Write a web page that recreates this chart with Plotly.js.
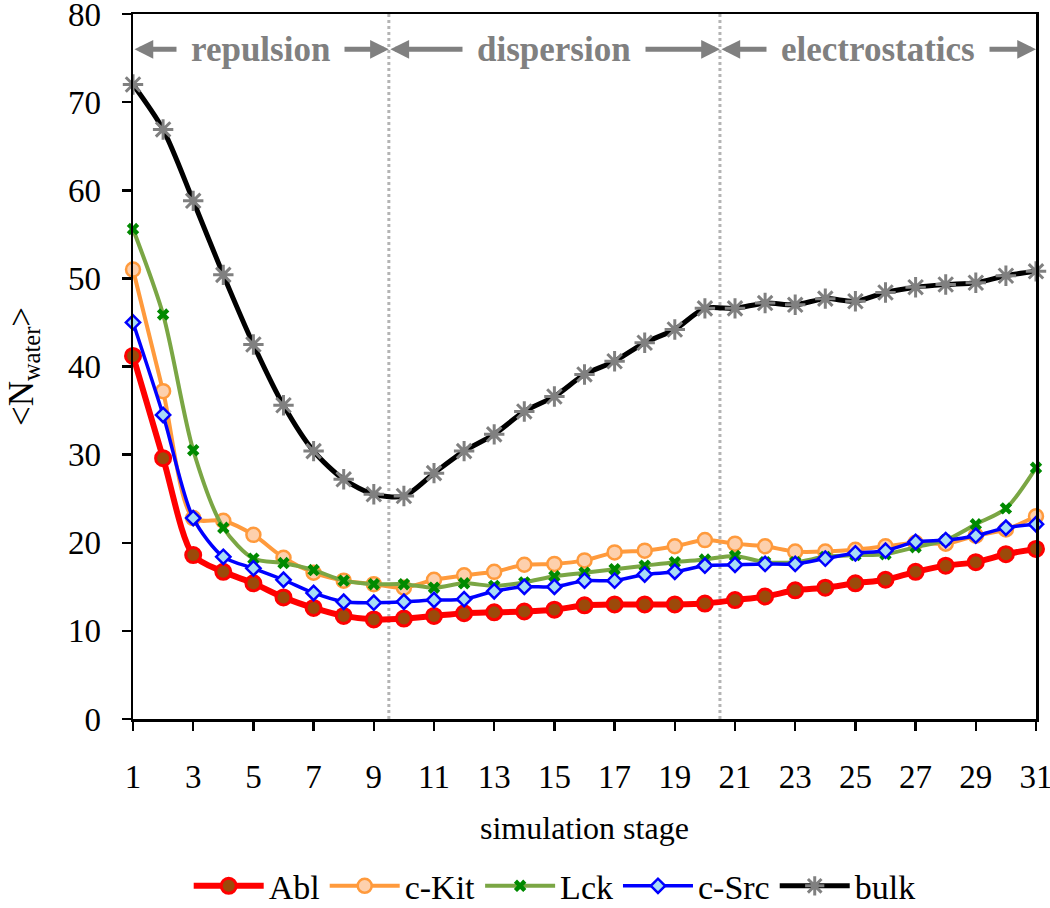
<!DOCTYPE html>
<html>
<head>
<meta charset="utf-8">
<script src="https://cdn.plot.ly/plotly-3.0.1.min.js"></script>
<style>
  html, body { margin: 0; padding: 0; background: #fff; }
  #plotter { width: 1050px; height: 908px; }
</style>
</head>
<body>
<div id="plotter"></div>
<script>
var stages = [1, 2, 3, 4, 5, 6, 7, 8, 9, 10, 11, 12, 13, 14, 15, 16,
              17, 18, 19, 20, 21, 22, 23, 24, 25, 26, 27, 28, 29, 30, 31];

var abl  = [41.2, 29.6, 18.6, 16.7, 15.4, 13.8, 12.6, 11.7, 11.3, 11.4, 11.7, 12.0, 12.1, 12.2, 12.4, 12.9,
            13.0, 13.0, 13.0, 13.1, 13.5, 13.9, 14.6, 14.9, 15.4, 15.8, 16.7, 17.4, 17.8, 18.7, 19.3];
var ckit = [51.0, 37.2, 22.8, 22.5, 20.9, 18.3, 16.6, 15.7, 15.3, 14.9, 15.8, 16.3, 16.7, 17.5, 17.6, 18.0,
            18.9, 19.1, 19.6, 20.3, 19.9, 19.6, 19.0, 19.0, 19.2, 19.6, 20.0, 19.9, 20.8, 21.5, 23.0];
var lck  = [55.6, 45.9, 30.5, 21.7, 18.2, 17.7, 16.9, 15.7, 15.3, 15.3, 14.9, 15.4, 15.1, 15.5, 16.2, 16.6,
            17.0, 17.4, 17.8, 18.1, 18.5, 17.8, 17.8, 18.4, 18.6, 18.7, 19.5, 20.3, 22.1, 23.9, 28.5];
var csrc = [45.0, 34.5, 22.8, 18.4, 17.1, 15.8, 14.3, 13.3, 13.2, 13.3, 13.5, 13.6, 14.5, 15.0, 15.0, 15.7,
            15.7, 16.4, 16.7, 17.4, 17.5, 17.6, 17.6, 18.2, 18.8, 19.1, 20.1, 20.3, 20.8, 21.7, 22.1];
var bulk = [72.0, 66.9, 58.8, 50.4, 42.5, 35.6, 30.4, 27.2, 25.5, 25.3, 27.9, 30.4, 32.3, 34.9, 36.6, 39.1,
            40.6, 42.7, 44.2, 46.6, 46.6, 47.2, 47.0, 47.7, 47.4, 48.4, 49.0, 49.3, 49.5, 50.3, 50.8];

var xTicks = [1, 3, 5, 7, 9, 11, 13, 15, 17, 19, 21, 23, 25, 27, 29, 31];

// stage boundaries and phase labels
var phases = ['repulsion', 'dispersion', 'electrostatics'];
var bounds = [1, 9.5, 20.5, 31];
var arrowY = 76;

var serif = 'Liberation Serif, Times New Roman, serif';

function series(name, y, lineColor, lineWidth, symbol, size, fill, edge, edgeWidth) {
    return {
        x: stages, y: y, name: name,
        type: 'scatter', mode: 'lines+markers', cliponaxis: false,
        line: {color: lineColor, width: lineWidth, shape: 'spline', smoothing: 0.8},
        marker: {symbol: symbol, size: size, color: fill,
                 line: {color: edge, width: edgeWidth}}
    };
}

var data = [
    series('Abl',   abl,  '#ff0000', 6,   'circle',        15, '#9c4a0a', '#ff0000', 3),
    series('c-Kit', ckit, '#ff9a3c', 4,   'circle',        14, '#fdd0ad', '#ff9a3c', 2.5),
    series('Lck',   lck,  '#7aa644', 4,   'x',             11, '#008a00', '#008a00', 0),
    series('c-Src', csrc, '#0000ff', 3.5, 'diamond',       11, '#a8dcf5', '#0000ff', 2.5),
    series('bulk',  bulk, '#000000', 5,   'asterisk-open', 17, '#808080', '#808080', 3)
];

var shapes = [9.5, 20.5].map(function (b) {
    return {type: 'line', xref: 'x', yref: 'y', x0: b, x1: b, y0: 0, y1: 80,
            layer: 'below', line: {color: '#b4b4b4', width: 3, dash: 'dot'}};
});

var annotations = [];
phases.forEach(function (p, i) {
    annotations.push({
        xref: 'x', yref: 'y', axref: 'x', ayref: 'y',
        x: bounds[i + 1], y: arrowY, ax: bounds[i], ay: arrowY,
        text: '', showarrow: true, arrowside: 'end+start',
        arrowhead: 2, arrowsize: 0.75, arrowwidth: 5, arrowcolor: '#808080',
        standoff: 0, startstandoff: 0
    });
});
phases.forEach(function (p, i) {
    annotations.push({
        xref: 'x', yref: 'y', x: (bounds[i] + bounds[i + 1]) / 2, y: arrowY,
        text: '<b>' + p + '</b>', showarrow: false,
        bgcolor: '#ffffff', borderpad: 14,
        font: {family: serif, size: 35, color: '#808080'}
    });
});
// x axis title, placed midway between the tick labels and the legend
annotations.push({
    xref: 'paper', yref: 'paper', x: 0.5, y: -0.155, yanchor: 'middle',
    text: 'simulation stage', showarrow: false,
    font: {family: serif, size: 32, color: '#000000'}
});

var layout = {
    width: 1050, height: 908,
    margin: {l: 133, r: 14, t: 14, b: 189},
    paper_bgcolor: '#ffffff', plot_bgcolor: '#ffffff',
    font: {family: serif, size: 32, color: '#000000'},
    showlegend: true,
    legend: {orientation: 'h', x: 0.467, xanchor: 'center',
             yref: 'container', y: 0.024, yanchor: 'middle',
             font: {family: serif, size: 34}, itemwidth: 70, traceorder: 'normal'},
    xaxis: {
        range: [1, 31], tickvals: xTicks, ticktext: xTicks.map(String),
        showgrid: false, zeroline: false, automargin: false,
        showline: true, linecolor: '#000', linewidth: 2.5, mirror: true,
        ticks: 'outside', ticklen: 9, tickwidth: 2.5, tickcolor: '#000',
        ticklabeloverflow: 'allow', ticklabelstandoff: 18,
        tickfont: {family: serif, size: 33}
    },
    yaxis: {
        range: [0, 80], dtick: 10, tick0: 0,
        showgrid: false, zeroline: false, automargin: false,
        showline: true, linecolor: '#000', linewidth: 2.5, mirror: true,
        ticks: 'outside', ticklen: 9, tickwidth: 2.5, tickcolor: '#000',
        ticklabeloverflow: 'allow', ticklabelstandoff: 14,
        tickfont: {family: serif, size: 33},
        title: {text: '&lt;N<sub>water</sub>&gt;', font: {family: serif, size: 35}, standoff: 24}
    },
    shapes: shapes,
    annotations: annotations
};

Plotly.newPlot('plotter', data, layout, {displayModeBar: false, staticPlot: true});
</script>
</body>
</html>
